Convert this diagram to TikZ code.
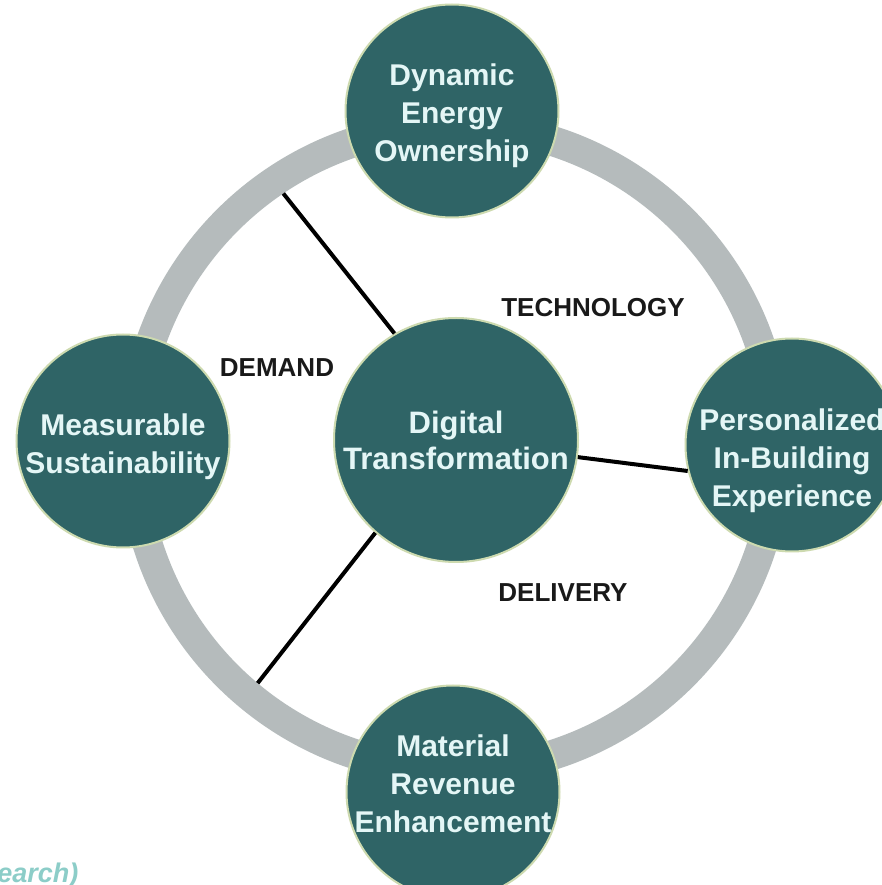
\documentclass[tikz,border=0pt]{standalone}
\usepackage{fontspec}
\setmainfont{Liberation Sans}
\definecolor{tealfill}{RGB}{47,100,102}
\definecolor{rimgreen}{RGB}{205,218,175}
\definecolor{ringgray}{RGB}{181,187,188}
\definecolor{circtext}{RGB}{228,246,246}
\definecolor{notecyan}{RGB}{140,205,200}
\newcommand*{\circtextstyle}{\fontsize{15}{19}\selectfont\bfseries\color{circtext}}
\newcommand*{\hubtextstyle}{\fontsize{15.5}{18}\selectfont\bfseries\color{circtext}}
\newcommand*{\axistextstyle}{\fontsize{13}{15}\selectfont\bfseries\color{black!90}}

\begin{document}
\begin{tikzpicture}[x=0.5pt, y=0.5pt,
    pillar/.style={circle, fill=tealfill, draw=rimgreen, line width=1pt,
        minimum size=106.5pt, inner sep=0pt},
    pillartext/.style={align=center, inner sep=0pt, font=\circtextstyle},
    spoke/.style={black, line width=2pt}]

    \clip (0,0) rectangle (882,885);
    \fill[white] (0,0) rectangle (882,885);

    % ring
    \coordinate (ringc) at (455,437);
    \draw[ringgray, line width=15pt] (ringc) circle (322);
    \path (ringc) ++(124:307) coordinate (demandend);
    \path (ringc) ++(230:307) coordinate (deliveryend);

    % outer circles
    \node[pillar, label={[pillartext, yshift=-2.5pt]center:{Dynamic\\Energy\\Ownership}}]
      (deo) at (452,774) {};
    \node[pillar, label={[pillartext, yshift=-3pt]center:{Measurable\\Sustainability}}]
      (ms) at (123,444) {};
    \node[pillar, label={[pillartext, yshift=-8pt]center:{Personalized\\In-Building\\Experience}}]
      (pib) at (792,440) {};
    \node[pillar, label={[pillartext, yshift=4pt]center:{Material\\Revenue\\Enhancement}}]
      (mre) at (453,93) {};

    % hub
    \node[pillar, minimum size=122pt, align=center, font=\hubtextstyle] (dt) at (456,445)
      {Digital\\Transformation};

    \draw[spoke] (demandend) -- (dt.120);
    \draw[spoke] (dt.-8) -- (pib.194);
    \draw[spoke] (deliveryend) -- (dt.229);

    \node[font=\axistextstyle] (tech) at (593,577) {TECHNOLOGY};
    \node[font=\axistextstyle] (demand) at (277,517) {DEMAND};
    \node[font=\axistextstyle] (delivery) at (563,292) {DELIVERY};

    \node[anchor=base west, inner sep=0pt, text=notecyan,
      font=\fontsize{13.5}{15}\selectfont\bfseries\itshape] (source) at (-3,3)
      {earch)};
\end{tikzpicture}
\end{document}
